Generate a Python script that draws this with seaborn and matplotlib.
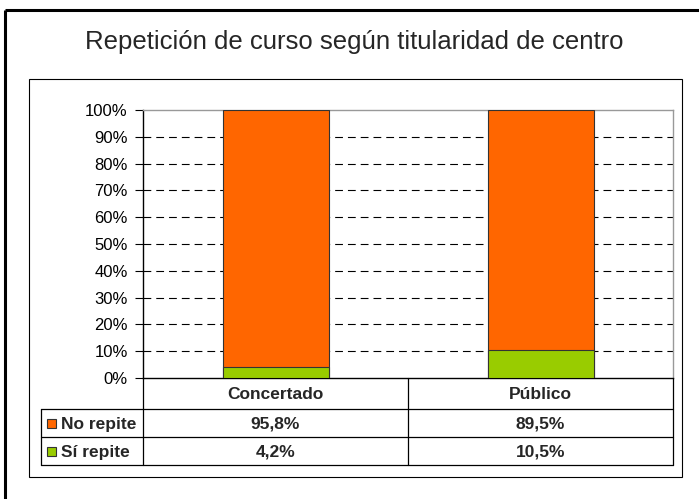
import matplotlib
matplotlib.use("Agg")
import matplotlib.pyplot as plt
import matplotlib.transforms as mtransforms
from matplotlib.patches import Rectangle
import numpy as np
import seaborn as sns

# data
categories = ['Concertado', 'Público']
no_repite = [95.8, 89.5]
si_repite = [4.2, 10.5]
series_names = ['No repite', 'Sí repite']
series_colors = ['#FF6600', '#99CC00']
y_ticks = list(range(0, 101, 10))
title = 'Repetición de curso según titularidad de centro'

sns.set_style('white')
plt.rcParams['font.family'] = ['Liberation Sans', 'DejaVu Sans']

W, H = 699, 499
fig = plt.figure(figsize=(W / 100, H / 100), dpi=100)
fig.patch.set_facecolor('white')

# plot area in pixels: x 143..673, y 110..378
ax = fig.add_axes([143 / W, 1 - 378 / H, 530 / W, 268 / H])
ax.set_facecolor('none')

totals = [a + b for a, b in zip(no_repite, si_repite)]
sns.barplot(x=categories, y=totals, color=series_colors[0], width=0.4,
            edgecolor='#333333', linewidth=0.8, saturation=1, ax=ax, zorder=3)
sns.barplot(x=categories, y=si_repite, color=series_colors[1], width=0.4,
            edgecolor='#333333', linewidth=0.8, saturation=1, ax=ax, zorder=4)

ax.set_xlim(-0.5, len(categories) - 0.5)
ax.set_ylim(0, 100)
ax.hlines(y_ticks[1:-1], -0.5, len(categories) - 0.5, colors='black',
          linewidth=0.8, linestyles=(0, (7, 4.5)), zorder=1)
ax.set_yticks(y_ticks)
ax.set_yticklabels([f'{t}%' for t in y_ticks], fontsize=12)
ax.tick_params(axis='y', direction='out', length=6, width=0.8, pad=5,
               left=True, colors='black')
ax.set_xticks([])
ax.set_xlabel('')
ax.set_ylabel('')
for side in ['left', 'bottom']:
    ax.spines[side].set_color('black')
    ax.spines[side].set_linewidth(1)
for side in ['top', 'right']:
    ax.spines[side].set_color('#999999')
    ax.spines[side].set_linewidth(1)

# overlay in pixel coordinates for frames, title and data table
ov = fig.add_axes([0, 0, 1, 1], zorder=5)
ov.set_xlim(0, W)
ov.set_ylim(H, 0)
ov.axis('off')
ov.patch.set_visible(False)

ov.plot([5, W], [10, 10], color='black', lw=2.2, solid_capstyle='butt')
ov.plot([5, 5], [10, H], color='black', lw=2.2, solid_capstyle='butt')
ov.add_patch(Rectangle((29, 79), 653, 398, fill=False, ec='black', lw=0.8))
ov.text(354, 42, title, ha='center', va='center', fontsize=18.5)

# table: columns follow the category positions of the bar axes
tx = mtransforms.blended_transform_factory(ax.transData, ov.transData)
edges = np.arange(len(categories) + 1) - 0.5
row_top, row_h = 378, [31, 28, 28]
row_y = np.cumsum([row_top] + row_h)
tab_kw = dict(color='black', lw=0.9)
for e in edges:
    ov.plot([e, e], [row_y[0], row_y[-1]], transform=tx, **tab_kw)
for y in row_y[1:]:
    ov.plot([41, 673], [y, y], **tab_kw)
ov.plot([41, 41], [row_y[1], row_y[-1]], **tab_kw)

for i, c in enumerate(categories):
    ov.text(i, (row_y[0] + row_y[1]) / 2 + 1, c, transform=tx, ha='center',
            va='center', fontsize=12.5, fontweight='bold')

table_rows = [no_repite, si_repite]
for r, (name, col, vals) in enumerate(zip(series_names, series_colors, table_rows)):
    yc = (row_y[r + 1] + row_y[r + 2]) / 2 + 1
    ov.add_patch(Rectangle((47, yc - 5), 9, 9, fc=col, ec='#333333', lw=0.8))
    ov.text(61, yc, name, ha='left', va='center', fontsize=12.5, fontweight='bold')
    for i, v in enumerate(vals):
        ov.text(i, yc, f'{v:.1f}%'.replace('.', ','), transform=tx,
                ha='center', va='center', fontsize=12.5, fontweight='bold')

fig.savefig('out.png', dpi=100)
